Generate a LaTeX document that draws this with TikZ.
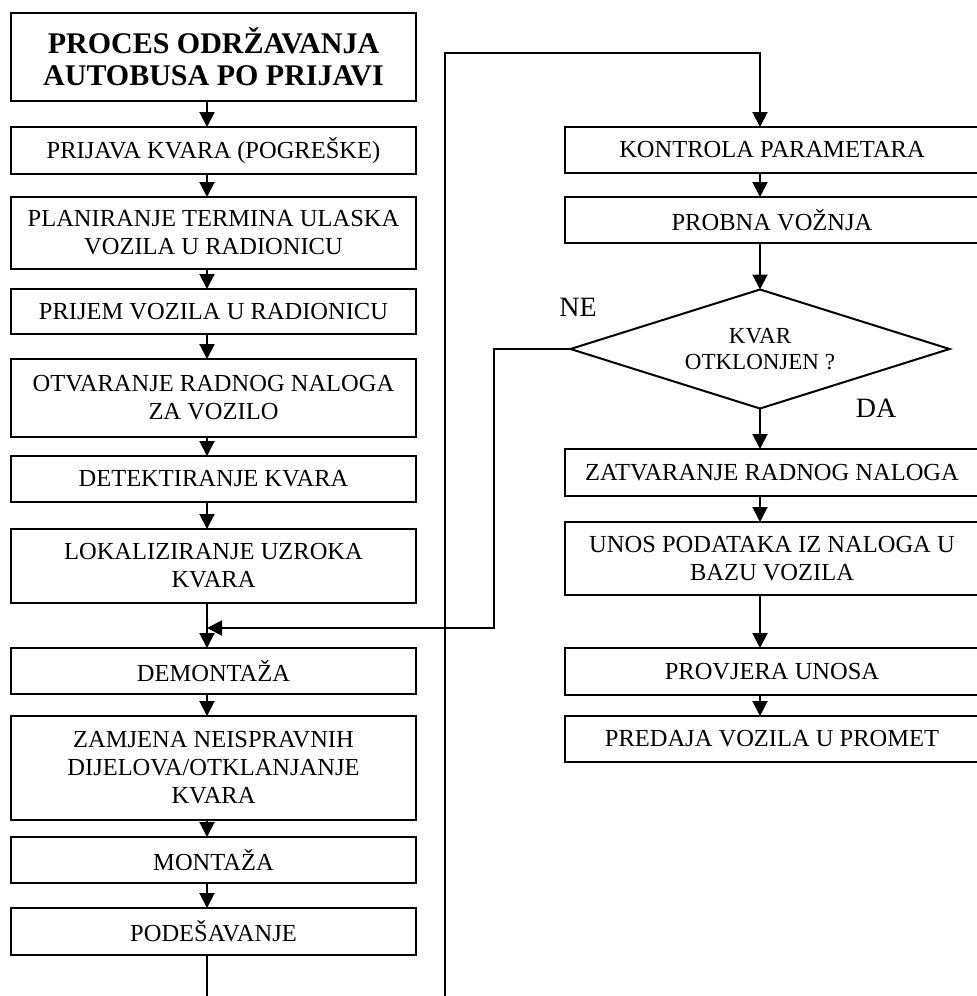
\documentclass[tikz,border=0pt]{standalone}
\usepackage{fontspec}
\setmainfont{Liberation Serif}
\usetikzlibrary{arrows.meta,shapes.geometric}
\begin{document}
\begin{tikzpicture}[x=1pt,y=-1pt,
  every node/.style={inner sep=0pt,outer sep=0pt},
  lbox/.style={draw,line width=2pt,rectangle,minimum width=405pt,align=center,
     font=\fontsize{24.5}{28}\selectfont},
  rbox/.style={draw,line width=2pt,rectangle,minimum width=414pt,align=center,
     font=\fontsize{24.5}{28}\selectfont},
  arr/.style={line width=2pt,-{Triangle[length=15pt,width=15pt]}},
  ln/.style={line width=2pt},
  lbl/.style={font=\fontsize{28}{30}\selectfont}]
\useasboundingbox (0,0) rectangle (977,996);
\fill[white] (0,0) rectangle (977,996);
% left column
\node[lbox,minimum height=88pt,font=\fontsize{30}{32}\selectfont\bfseries] (title) at (213.5,57) {PROCES ODRŽAVANJA\\AUTOBUSA PO PRIJAVI};
\node[lbox,minimum height=47pt] (prijava) at (213.5,150.5) {PRIJAVA KVARA (POGREŠKE)};
\node[lbox,minimum height=72pt] (plan) at (213.5,233) {PLANIRANJE TERMINA ULASKA\\VOZILA U RADIONICU};
\node[lbox,minimum height=45pt] (prijem) at (213.5,311.5) {PRIJEM VOZILA U RADIONICU};
\node[lbox,minimum height=78pt] (otv) at (213.5,398) {OTVARANJE RADNOG NALOGA\\ZA VOZILO};
\node[lbox,minimum height=46pt] (det) at (213.5,479) {DETEKTIRANJE KVARA};
\node[lbox,minimum height=74pt] (lok) at (213.5,566) {LOKALIZIRANJE UZROKA\\KVARA};
\node[lbox,minimum height=46pt] (dem) at (213.5,671) {DEMONTAŽA};
\node[lbox,minimum height=104pt] (zam) at (213.5,768) {ZAMJENA NEISPRAVNIH\\DIJELOVA/OTKLANJANJE\\KVARA};
\node[lbox,minimum height=46pt] (mon) at (213.5,860) {MONTAŽA};
\node[lbox,minimum height=47pt] (pod) at (213.5,931.5) {PODEŠAVANJE};
% right column
\node[rbox,minimum height=46pt] (kon) at (772,150) {KONTROLA PARAMETARA};
\node[rbox,minimum height=46pt] (prob) at (772,220) {PROBNA VOŽNJA};
\node[draw,line width=2pt,diamond,aspect=3.2,minimum width=379pt,minimum height=119pt,align=center,
  font=\fontsize{23}{26}\selectfont] (dec) at (760,349) {KVAR\\OTKLONJEN ?};
\node[rbox,minimum height=47pt] (zat) at (772,472.5) {ZATVARANJE RADNOG NALOGA};
\node[rbox,minimum height=73pt] (unos) at (772,558.5) {UNOS PODATAKA IZ NALOGA U\\BAZU VOZILA};
\node[rbox,minimum height=47pt] (prov) at (772,671.5) {PROVJERA UNOSA};
\node[rbox,minimum height=46pt] (pred) at (772,739) {PREDAJA VOZILA U PROMET};
\node[lbl] (ne) at (578,307) {NE};
\node[lbl] (da) at (876,408) {DA};
% coordinates
\coordinate (L) at (207,0);
\coordinate (R) at (760,0);
\coordinate (merge) at (207,628);
\coordinate (nex) at (494,628);
\coordinate (lb) at (445,996);
\coordinate (lt) at (760,53);
\coordinate (pb) at (207,996);
% left arrows
\draw[arr] (title.south -| L) -- (prijava.north -| L);
\draw[arr] (prijava.south -| L) -- (plan.north -| L);
\draw[arr] (plan.south -| L) -- (prijem.north -| L);
\draw[arr] (prijem.south -| L) -- (otv.north -| L);
\draw[arr] (otv.south -| L) -- (det.north -| L);
\draw[arr] (det.south -| L) -- (lok.north -| L);
\draw[arr] (lok.south -| L) -- (dem.north -| L);
\draw[arr] (dem.south -| L) -- (zam.north -| L);
\draw[arr] (zam.south -| L) -- (mon.north -| L);
\draw[arr] (mon.south -| L) -- (pod.north -| L);
\draw[ln] (pod.south -| L) -- (pb);
% loop
\draw[arr] (lb) |- (lt) -- (kon.north -| R);
% right arrows
\draw[arr] (kon.south -| R) -- (prob.north -| R);
\draw[arr] (prob.south -| R) -- (dec.north);
\draw[arr] (dec.south) -- (zat.north -| R);
\draw[arr] (zat.south -| R) -- (unos.north -| R);
\draw[arr] (unos.south -| R) -- (prov.north -| R);
\draw[arr] (prov.south -| R) -- (pred.north -| R);
% NE branch
\draw[arr] (dec.west) -| (nex) -- (merge);
\end{tikzpicture}
\end{document}
